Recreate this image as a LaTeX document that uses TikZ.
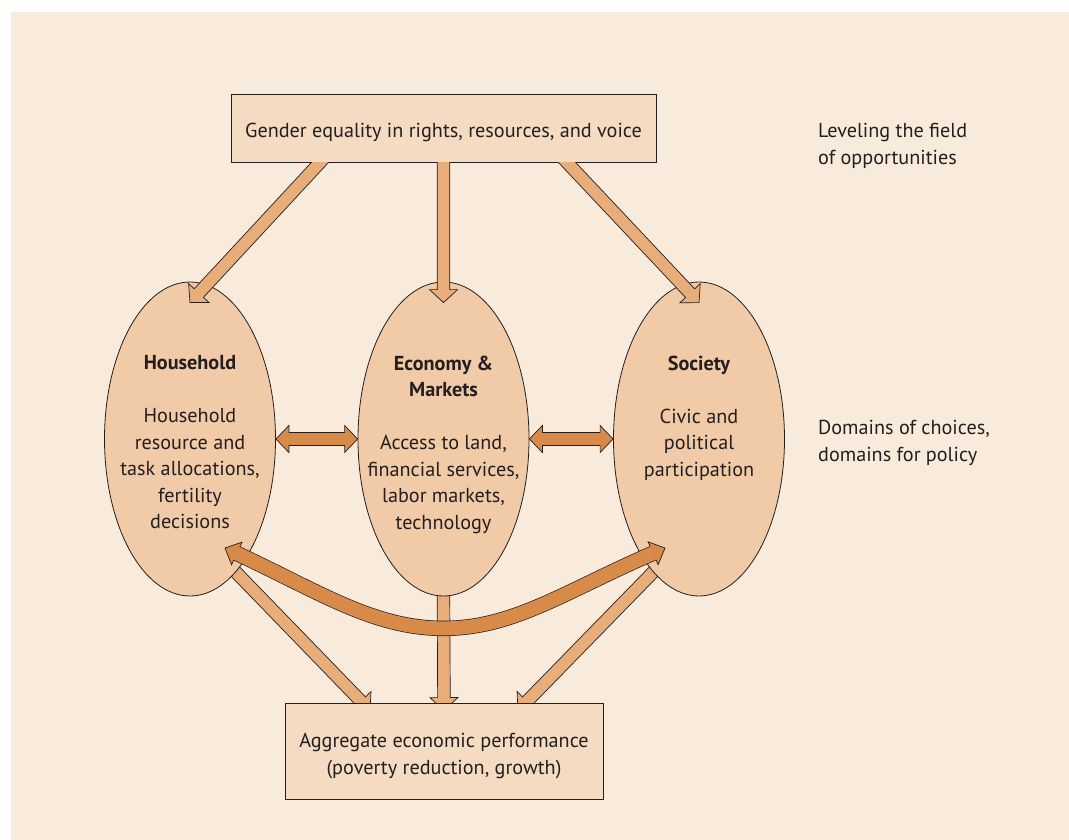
\documentclass[tikz,border=0pt]{standalone}
\usepackage{fontspec}
\setmainfont{PT Sans}
\usepackage{xcolor}
\usepackage{tikz}
\usetikzlibrary{shapes.geometric}
\usetikzlibrary{calc}

\definecolor{paper}{RGB}{248,235,220}
\definecolor{boxfill}{RGB}{244,219,194}
\definecolor{domfill}{RGB}{241,202,167}
\definecolor{arrlight}{RGB}{232,173,121}
\definecolor{arrdark}{RGB}{216,139,73}
\definecolor{ink}{RGB}{35,31,32}

\pgfdeclarelayer{under}
\pgfsetlayers{under,main}

\tikzset{
	dombubble/.style={ellipse, draw=ink, line width=0.8pt, fill=domfill, minimum width=171pt, minimum height=314pt, inner sep=0pt},
	lbl/.style={text=ink, align=center, font=\fontsize{20.2}{26.5}\selectfont, inner sep=0pt},
	framebox/.style={rectangle, draw=ink, line width=0.8pt, fill=boxfill},
	side/.style={lbl, align=left, anchor=west},
	outline/.style={draw=ink, line width=0.7pt, line join=miter}
}

% fill, from, to, shaft half width, head half width, head length
\newcommand{\blockarr}[6]{
	\coordinate (bahead) at ($(#3)!#6!(#2)$);
	\filldraw[outline, fill=#1] ($(#2)!#4!90:(#3)$) -- ($(bahead)!#4!90:(#3)$) -- ($(bahead)!#5!90:(#3)$) -- (#3)
		-- ($(bahead)!#5!-90:(#3)$) -- ($(bahead)!#4!-90:(#3)$) -- ($(#2)!#4!-90:(#3)$) -- cycle;
}
\newcommand{\dblarr}[6]{
	\coordinate (dahead) at ($(#2)!#6!(#3)$);
	\coordinate (datail) at ($(#3)!#6!(#2)$);
	\filldraw[outline, fill=#1] (#2) -- ($(dahead)!#5!90:(#3)$) -- ($(dahead)!#4!90:(#3)$) -- ($(datail)!#4!90:(#3)$)
		-- ($(datail)!#5!90:(#3)$) -- (#3) -- ($(datail)!#5!-90:(#3)$) -- ($(datail)!#4!-90:(#3)$)
		-- ($(dahead)!#4!-90:(#3)$) -- ($(dahead)!#5!-90:(#3)$) -- cycle;
}
\newcommand{\arrhead}[5]{
	\fill[#1] ($(#2)!#4!90:(#3)$) -- ($(#2)!#5!90:(#3)$) -- (#3) -- ($(#2)!#5!-90:(#3)$) -- ($(#2)!#4!-90:(#3)$) -- cycle;
	\draw[outline] ($(#2)!#4!90:(#3)$) -- ($(#2)!#5!90:(#3)$) -- (#3) -- ($(#2)!#5!-90:(#3)$) -- ($(#2)!#4!-90:(#3)$);
}

\begin{document}
\begin{tikzpicture}[x=1pt, y=-1pt]
	\useasboundingbox (0,0) rectangle (1069,840);
	\begin{pgfonlayer}{under}
		\fill[white] (0,0) rectangle (1080,850);
		\fill[paper] (11,12) rectangle (1080,850);
	\end{pgfonlayer}

	\node[framebox, minimum width=425pt, minimum height=68pt] (gender) at (443.5,128) {};
	\node[lbl] (genderlbl) at ($(gender.center)+(0,4)$) {Gender equality in rights, resources, and voice};
	\node[dombubble] (hh) at (190,439) {};
	\node[dombubble] (econ) at (443.5,439) {};
	\node[dombubble] (soc) at (699,439) {};
	\node[framebox, minimum width=318pt, minimum height=96pt] (agg) at (444,751) {};
	\node[lbl] (agglbl) at ($(agg.center)+(0,5)$) {Aggregate economic performance\\(poverty reduction, growth)};

	\node[lbl, anchor=north] (hhlbl) at ($(hh.north)+(0,74)$) {\textbf{Household}\\[26.5pt]Household\\resource and\\task allocations,\\fertility\\decisions};
	\node[lbl, anchor=north] (econlbl) at ($(econ.north)+(0,74)$) {\textbf{Economy \&}\\\textbf{Markets}\\[26.5pt]Access to land,\\financial services,\\labor markets,\\technology};
	\node[lbl, anchor=north] (soclbl) at ($(soc.north)+(0,74)$) {\textbf{Society}\\[26.5pt]Civic and\\political\\participation};

	\node[side] (field) at (818,146) {Leveling the field\\of opportunities};
	\node[side] (choice) at (818,443) {Domains of choices,\\domains for policy};

	\begin{scope}
		\clip ($(gender.south west)+(-300,0.4)$) rectangle (1069,840);
		\foreach \dx/\dom in {-123.5/hh, 0/econ, 123.5/soc}{
			\coordinate (from\dom) at ($(gender.south)+(\dx,0)$);
			\coordinate (to\dom) at ($(\dom.north)+(0,21)$);
			\coordinate (src\dom) at ($(from\dom)!-12pt!(to\dom)$);
			\blockarr{arrlight}{src\dom}{to\dom}{6.3pt}{14pt}{13pt}
		}
	\end{scope}

	\coordinate (outhh) at (hh.-71);
	\coordinate (outecon) at (econ.south);
	\coordinate (outsoc) at (soc.-109);
	\begin{pgfonlayer}{under}
		\foreach \dx/\dom in {-74/hh, 0/econ, 74/soc}{
			\coordinate (aim\dom) at ($(agg.north)+(\dx,8)$);
			\coordinate (base\dom) at ($(out\dom)!-25pt!(aim\dom)$);
			\blockarr{arrlight}{base\dom}{aim\dom}{6.3pt}{14pt}{13pt}
		}
	\end{pgfonlayer}

	\dblarr{arrdark}{hh.east}{econ.west}{6.5pt}{13.5pt}{13pt}
	\dblarr{arrdark}{econ.east}{soc.west}{6.5pt}{13.5pt}{13pt}

	\coordinate (tipl) at ($(hh.center)+(35,109)$);
	\coordinate (tipr) at ($(soc.center)+(-34,109)$);
	\coordinate (dip) at ($(econ.south)+(0,32)$);
	\coordinate (backl) at ($(tipl)!13pt!($(tipl)+(95,44)$)$);
	\coordinate (backr) at ($(tipr)!13pt!($(tipr)+(-100,44)$)$);
	\draw[ink, line width=15.4pt] (backl) .. controls +(82,38) and +(-70,0) .. (dip) .. controls +(70,0) and +(-88,38) .. (backr);
	\draw[arrdark, line width=14pt] (backl) .. controls +(82,38) and +(-70,0) .. (dip) .. controls +(70,0) and +(-88,38) .. (backr);
	\arrhead{arrdark}{backl}{tipl}{7.35pt}{12.5pt}
	\arrhead{arrdark}{backr}{tipr}{7.35pt}{12.5pt}
\end{tikzpicture}
\end{document}
